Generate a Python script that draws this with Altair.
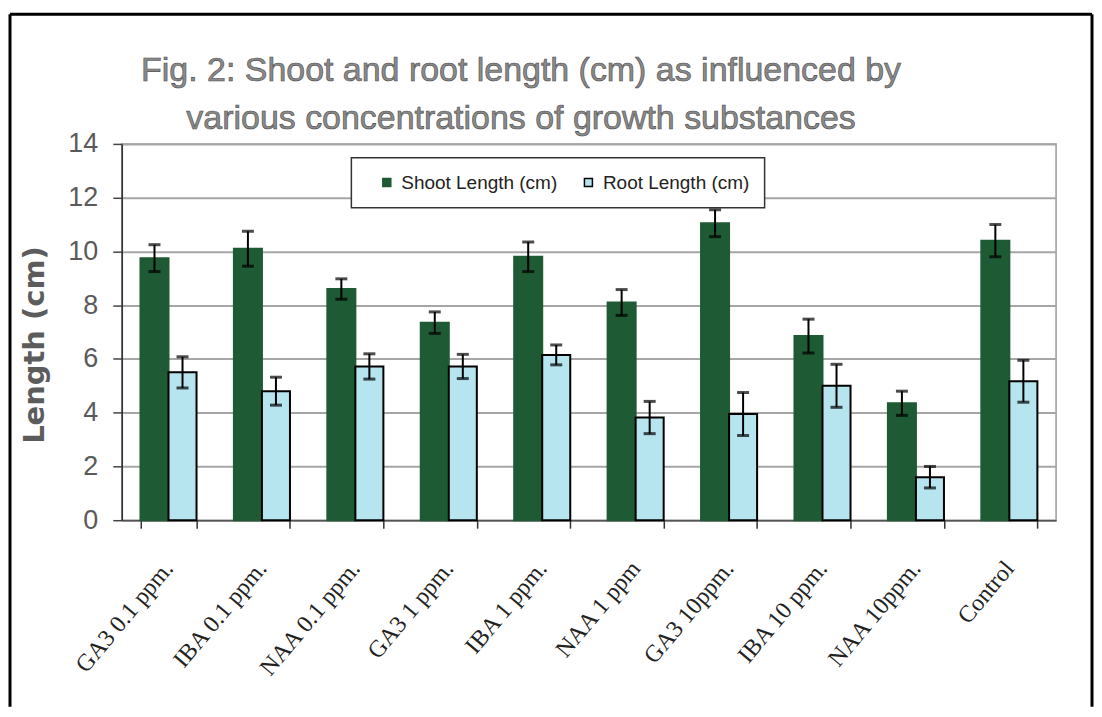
import altair as alt
import pandas as pd

title_lines = ["Fig. 2: Shoot and root length (cm) as influenced by",
               "various concentrations of growth substances"]
treatments = ["GA3 0.1 ppm.", "IBA 0.1 ppm.", "NAA 0.1 ppm.", "GA3 1 ppm.", "IBA 1 ppm.",
              "NAA 1 ppm", "GA3 10ppm.", "IBA 10 ppm.", "NAA 10ppm.", "Control"]
series = ["Shoot Length (cm)", "Root Length (cm)"]
shoot = [9.75, 10.1, 8.6, 7.35, 9.8, 8.1, 11.05, 6.85, 4.35, 10.4]
shoot_err = [0.5, 0.65, 0.38, 0.4, 0.55, 0.48, 0.5, 0.63, 0.45, 0.6]
root = [5.5, 4.8, 5.72, 5.72, 6.15, 3.82, 3.95, 5.0, 1.6, 5.17]
root_err = [0.58, 0.52, 0.47, 0.45, 0.37, 0.6, 0.8, 0.8, 0.4, 0.78]

rows = []
for i, t in enumerate(treatments):
    rows.append({"treatment": t, "series": series[0], "value": shoot[i],
                 "lo": shoot[i] - shoot_err[i], "hi": shoot[i] + shoot_err[i]})
    rows.append({"treatment": t, "series": series[1], "value": root[i],
                 "lo": root[i] - root_err[i], "hi": root[i] + root_err[i]})
df = pd.DataFrame(rows)

GREEN = "#1e5a33"
BLUE = "#b6e4ef"

x = alt.X("treatment:N", sort=treatments,
          scale=alt.Scale(paddingInner=0.4, paddingOuter=0.2),
          axis=alt.Axis(title=None, labelAngle=-50, labelFont="Liberation Serif",
                        labelFontSize=24, labelColor="#222", tickBand="extent",
                        tickSize=8, tickColor="#333", tickWidth=1.5, domainColor="#555",
                        domainWidth=1.5, labelPadding=36, grid=False,
                        labelAlign="right", labelBaseline="middle"))
xo = alt.XOffset("series:N", sort=series, scale=alt.Scale(paddingInner=0, paddingOuter=0))
y_axis = alt.Axis(values=list(range(0, 15, 2)), title="Length (cm)", titleFont="DejaVu Sans",
                  titleFontSize=29, titleColor="#5c5c5c", titleFontWeight="bold",
                  labelFont="Liberation Sans", labelFontSize=27,
                  labelColor="#5a5a5a", labelPadding=15, tickSize=9, tickColor="#444",
                  tickWidth=1.5, domainColor="#333", domainWidth=1.5, gridColor="#a6a6a6",
                  gridWidth=2, titlePadding=18, titleY=201)
y = alt.Y("value:Q", scale=alt.Scale(domain=[0, 14]), axis=y_axis)

base = alt.Chart(df)
bars = base.mark_bar(strokeWidth=2).encode(
    x=x, xOffset=xo, y=y,
    fill=alt.Fill("series:N", sort=series,
                  scale=alt.Scale(domain=series, range=[GREEN, BLUE]),
                  legend=alt.Legend(title=None)),
    stroke=alt.Stroke("series:N", sort=series,
                      scale=alt.Scale(domain=series, range=[GREEN, "black"]),
                      legend=alt.Legend(title=None)),
)
rules = base.mark_rule(color="black", strokeWidth=2).encode(
    x=x, xOffset=xo, y=alt.Y("lo:Q"), y2="hi:Q")
cap_hi = base.mark_tick(color="black", thickness=3, size=12).encode(x=x, xOffset=xo, y="hi:Q")
cap_lo = base.mark_tick(color="black", thickness=3, size=12).encode(x=x, xOffset=xo, y="lo:Q")

one = alt.Chart(pd.DataFrame({"k": [0]}))
fr = one.mark_rule(color="black", strokeWidth=3)
f_left = fr.encode(x=alt.value(-112), y=alt.value(-130), y2=alt.value(564))
f_top = fr.encode(x=alt.value(-112), x2=alt.value(972), y=alt.value(-130))
f_right = fr.encode(x=alt.value(972), y=alt.value(-130), y2=alt.value(564))

tmark = one.mark_text(align="center", baseline="alphabetic", font="Liberation Sans",
                      fontSize=34, fill="#8a8a8a", stroke="#4a4a4a", strokeWidth=0.6)
t1 = tmark.encode(x=alt.value(400), y=alt.value(-63), text=alt.value(title_lines[0]))
t2 = tmark.encode(x=alt.value(400), y=alt.value(-15), text=alt.value(title_lines[1]))

chart = alt.layer(bars, rules, cap_hi, cap_lo, f_left, f_top, f_right, t1, t2).properties(
    width=936, height=377,
    padding={"left": 0, "top": 3.5, "right": 0, "bottom": 0},
).configure_view(stroke="#9a9a9a", strokeWidth=1.5).configure_legend(
    orient="none", legendX=230, legendY=14, direction="horizontal",
    fillColor="white", strokeColor="#333", strokeWidth=1.5, padding=15,
    labelFont="Liberation Sans", labelFontSize=19, labelColor="#222",
    symbolType="square", symbolSize=64, symbolStrokeWidth=1.5,
    columnPadding=10, labelOffset=5, symbolOffset=11,
)

chart.save("out.html", embed_options={"renderer": "svg", "actions": False})
